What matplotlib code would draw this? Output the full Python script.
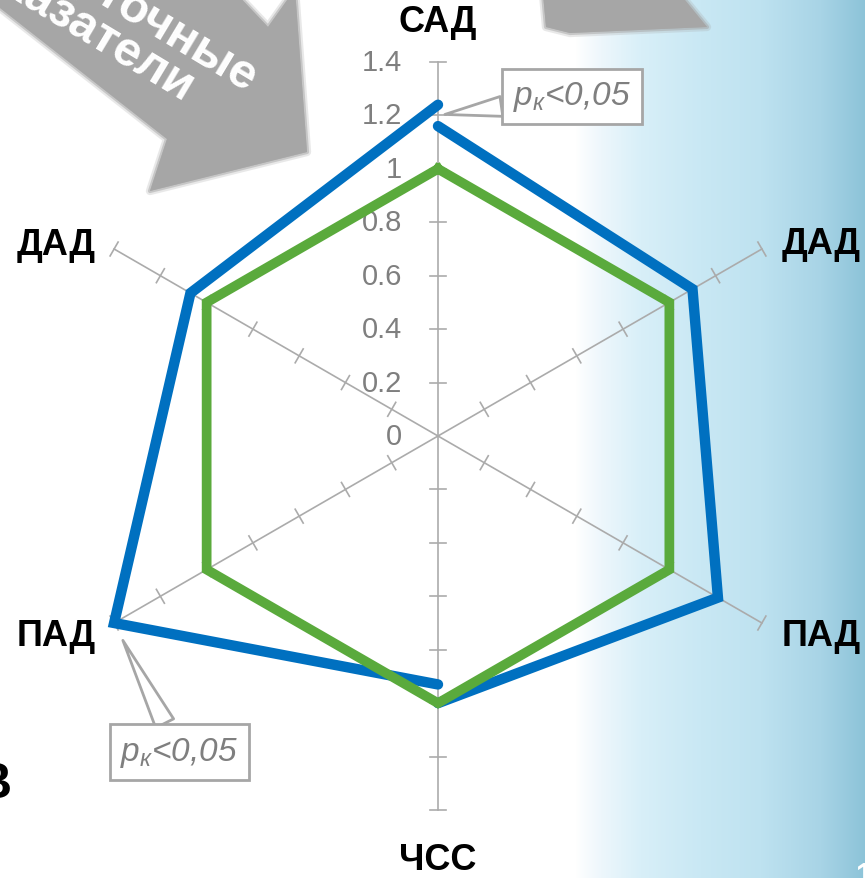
import numpy as np
import matplotlib
matplotlib.use('Agg')
import matplotlib.pyplot as plt
from matplotlib.patches import Polygon

plt.rcParams['font.family'] = ['Liberation Sans', 'DejaVu Sans']
plt.rcParams['mathtext.fontset'] = 'custom'
plt.rcParams['mathtext.it'] = 'Liberation Sans:italic'
plt.rcParams['mathtext.rm'] = 'Liberation Sans'

# данные
categories = ['САД', 'ДАД', 'ПАД', 'ЧСС', 'ПАД', 'ДАД']
control = [1.0, 1.0, 1.0, 1.0, 1.0, 1.0]
# синяя линия разорвана на две части
blue_right = [1.16, 1.10, 1.21, 1.00]      # САД -> ДАД -> ПАД -> ЧСС
blue_left = [0.93, 1.40, 1.07, 1.24]       # ЧСС -> ПАД -> ДАД -> САД
rticks = [0.2, 0.4, 0.6, 0.8, 1.0, 1.2, 1.4]
rtick_labels = ['0', '0.2', '0.4', '0.6', '0.8', '1', '1.2', '1.4']

W, H = 865, 879
fig = plt.figure(figsize=(W / 100, H / 100), dpi=100)

# фон слайда
bg = fig.add_axes([0, 0, 1, 1])
bg.set_xlim(0, W)
bg.set_ylim(H, 0)
bg.axis('off')
xs = np.arange(W)
stops_x = [0, 575, 600, 640, 700, 760, 820, 865]
stops_c = np.array([[255, 255, 255], [255, 255, 255], [238, 247, 252], [216, 239, 248],
                    [201, 232, 244], [190, 226, 240], [168, 212, 230], [140, 195, 216]]) / 255
grad = np.stack([np.interp(xs, stops_x, stops_c[:, i]) for i in range(3)], axis=-1)
bg.imshow(grad[None, :, :], extent=[0, W, H, 0], aspect='auto', zorder=0)

# серые стрелки сверху (с мягким краем)
arrow_pts = [(-5, -10), (-5, 5), (167, 140), (150, 192), (307, 153),
             (295, -10), (268, 28), (232, -10)]
top_pts = [(543, -5), (546, 28), (570, 34), (707, 28), (680, -5)]
for pts in (arrow_pts, top_pts):
    for lw, a in [(6, 0.25), (3, 0.5)]:
        bg.add_patch(Polygon(pts, closed=True, fc='#A6A6A6', ec='#A6A6A6', lw=lw,
                             alpha=a, joinstyle='round', zorder=1))
    bg.add_patch(Polygon(pts, closed=True, fc='#A6A6A6', ec='none', zorder=1))
bg.text(246, 93, 'суточные', rotation=-31, rotation_mode='anchor', ha='right',
        va='baseline', color='white', fontsize=35, fontweight='bold', zorder=2)
bg.text(184, 104, 'показатели', rotation=-31, rotation_mode='anchor', ha='right',
        va='baseline', color='white', fontsize=35, fontweight='bold', zorder=2)
bg.text(12, 798, 'В', ha='right', va='baseline', fontsize=36, fontweight='bold',
        color='black', zorder=2)
bg.text(872, 885, '1', ha='right', va='baseline', fontsize=22, fontweight='bold',
        color='white', zorder=2)

# радарная диаграмма
R = 374
ax = fig.add_axes([(438 - R) / W, (H - 437 - R) / H, 2 * R / W, 2 * R / H],
                  projection='polar')
ax.set_facecolor('none')
ax.set_theta_zero_location('N')
ax.set_theta_direction(-1)
ax.set_ylim(0, 1.4)
ax.axis('off')

n = len(categories)
theta = np.arange(n) * 2 * np.pi / n
axis_col = '#ABABAB'
h = 8 / (R / 1.4)
for t in theta:
    ax.plot([t, t], [0, 1.4], color=axis_col, lw=1.2, clip_on=False, zorder=2)
    for r in rticks:
        d = np.arctan(h / r)
        rr = np.hypot(r, h)
        ax.plot([t - d, t + d], [rr, rr], color=axis_col, lw=1.2, clip_on=False, zorder=2)

for r, lab in zip([0] + rticks, rtick_labels):
    ax.annotate(lab, xy=(0, r), xytext=(-36, 0), textcoords='offset pixels',
                ha='right', va='center', color='#7F7F7F', fontsize=21, zorder=3)

label_off = [(0, 40), (20, 5), (20, -13), (0, -50), (-18, -13), (-18, 4)]
label_ha = ['center', 'left', 'left', 'center', 'right', 'right']
for t, lab, off, ha in zip(theta, categories, label_off, label_ha):
    ax.annotate(lab, xy=(t, 1.4), xytext=off, textcoords='offset pixels',
                ha=ha, va='center', fontsize=26, fontweight='bold', color='black',
                annotation_clip=False)

blue = '#0070C0'
green = '#5AAA3C'
th_right = theta[0:4]
th_left = np.append(theta[3:], 2 * np.pi)
ax.plot(th_right, blue_right, color=blue, lw=7.5, solid_capstyle='round',
        solid_joinstyle='miter', clip_on=False, zorder=4)
ax.plot(th_left, blue_left, color=blue, lw=7.5, solid_capstyle='round',
        solid_joinstyle='miter', clip_on=False, zorder=4)
ax.plot(np.append(theta, 2 * np.pi), control + control[:1], color=green, lw=7,
        solid_joinstyle='miter', clip_on=False, zorder=5)

# подписи значимости
box = dict(boxstyle='square,pad=0.32', fc='white', ec='#A6A6A6', lw=2)
arrow = dict(arrowstyle='wedge,tail_width=0.6', fc='white', ec='#A6A6A6', lw=2,
             shrinkA=0)
ax.annotate(r'$p_{к}$<0,05', xy=(0, 1.2), xytext=(134, 19), textcoords='offset pixels',
            ha='center', va='center', fontsize=24, style='italic', color='#7F7F7F',
            bbox=box, arrowprops=dict(arrow, shrinkB=5), zorder=6, annotation_clip=False)
ax.annotate(r'$p_{к}$<0,05', xy=(theta[4], 1.4), xytext=(65, -129),
            textcoords='offset pixels', ha='center', va='center', fontsize=24,
            style='italic', color='#7F7F7F', bbox=box,
            arrowprops=dict(arrow, shrinkB=14), zorder=6, annotation_clip=False)

fig.savefig('out.png', dpi=100)
